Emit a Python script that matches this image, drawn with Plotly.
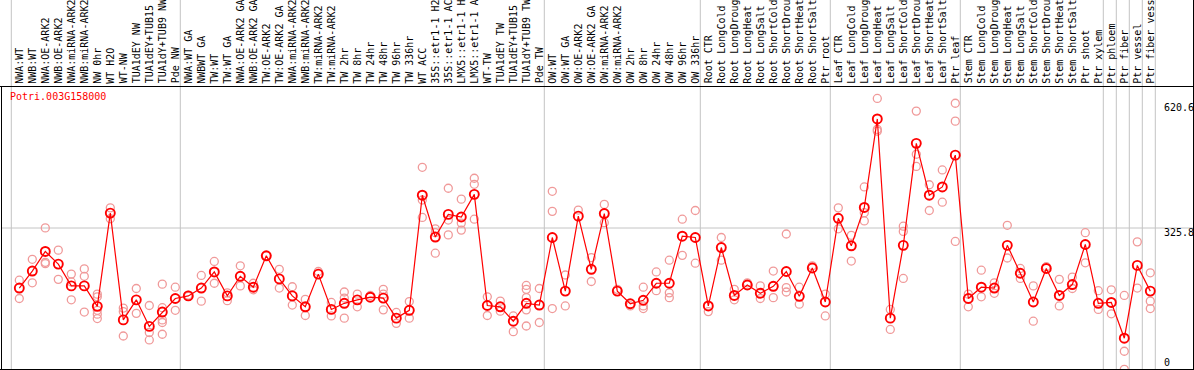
import plotly.graph_objects as go

categories = [
    "NWA:WT", "NWB:WT", "NWA:OE-ARK2", "NWB:OE-ARK2", "NWA:miRNA-ARK2", "NWB:miRNA-ARK2",
    "NW 0hr", "WT H2O", "WT-NW", "TUA1dEY NW", "TUA1dEY+TUB15 NW", "TUA1dY+TUB9 NW", "Pde NW",
    "NWA:WT GA", "NWBWT GA", "TW:WT", "TW:WT GA", "NWA:OE-ARK2 GA", "NWB:OE-ARK2 GA",
    "TW:OE-ARK2", "TW:OE-ARK2 GA", "NWA:miRNA-ARK2 GA", "NWB:miRNA-ARK2 GA", "TW:miRNA-ARK2",
    "TW:miRNA-ARK2 GA", "TW 2hr", "TW 8hr", "TW 24hr", "TW 48hr", "TW 96hr", "TW 336hr",
    "WT ACC", "35S::etr1-1 H2O", "35S::etr1-1 ACC", "LMX5::etr1-1 H2O", "LMX5::etr1-1 ACC",
    "WT-TW", "TUA1dEY TW", "TUA1dEY+TUB15 TW", "TUA1dY+TUB9 TW", "Pde TW",
    "OW:WT", "OW:WT GA", "OW:OE-ARK2", "OW:OE-ARK2 GA", "OW:miRNA-ARK2", "OW:miRNA-ARK2 GA",
    "OW 2hr", "OW 8hr", "OW 24hr", "OW 48hr", "OW 96hr", "OW 336hr",
    "Root CTR", "Root LongCold", "Root LongDrought", "Root LongHeat", "Root LongSalt",
    "Root ShortCold", "Root ShortDrought", "Root ShortHeat", "Root ShortSalt", "Ptr root",
    "Leaf CTR", "Leaf LongCold", "Leaf LongDrought", "Leaf LongHeat", "Leaf LongSalt",
    "Leaf ShortCold", "Leaf ShortDrought", "Leaf ShortHeat", "Leaf ShortSalt", "Ptr leaf",
    "Stem CTR", "Stem LongCold", "Stem LongDrought", "Stem LongHeat", "Stem LongSalt",
    "Stem ShortCold", "Stem ShortDrought", "Stem ShortHeat", "Stem ShortSalt", "Ptr shoot",
    "Ptr xylem", "Ptr phloem", "Ptr fiber", "Ptr vessel", "Ptr fiber vessel",
]

mean_values = [
    188, 227, 272, 243, 193, 193, 146, 360, 115, 161, 100, 133, 164,
    170, 188, 225, 170, 215, 190, 262, 209, 170, 145, 220, 139, 153, 161, 167, 165, 119, 137,
    401, 305, 357, 351, 403, 148, 145, 112, 153, 149,
    304, 181, 353, 231, 359, 181, 152, 160, 199, 199, 307, 304,
    147, 281, 171, 195, 176, 192, 226, 169, 234, 156,
    348, 285, 373, 576, 119, 286, 520, 401, 420, 493,
    164, 190, 188, 286, 222, 156, 233, 171, 196, 288, 153, 155, 73, 240, 181,
]

replicate_values = [
    [206, 164], [254, 200], [326, 247, 244], [275, 208], [220, 202, 161], [232, 215, 133],
    [174, 168, 137, 128, 118], [372, 347], [142, 134, 78], [187, 130], [148, 86, 69],
    [197, 143, 115, 109, 82], [190, 137],
    [172, 169], [217, 158], [249, 199], [177, 159], [239, 193], [199, 184], [262], [231, 188],
    [191, 149], [162, 125], [226], [155, 124], [179, 165, 119], [174, 145], [171],
    [185, 174, 138], [132, 107], [157, 119],
    [465, 390, 350], [324, 315, 268], [417, 344, 310], [392, 337, 321], [440, 426, 346],
    [168, 125], [158, 135], [124, 88], [194, 185, 166, 138, 101], [187, 109],
    [410, 364, 141], [218, 147], [367], [258, 203], [380, 338], [185], [147],
    [190, 147, 141], [225, 182], [252, 177, 166], [346, 263], [366, 245],
    [134], [304, 252], [185, 161], [200], [193, 164], [227, 166], [312, 189, 179],
    [190, 151], [239], [174, 124],
    [372, 324], [309, 250], [420, 361, 342], [623, 552, 548], [139, 93],
    [330, 318, 210], [594, 495, 467], [425, 366], [459, 385], [612, 571, 295],
    [174, 145], [229, 168], [200, 176], [332, 257], [233, 210], [193, 112], [237],
    [208, 147], [213, 187], [315, 246], [182, 139], [184, 129], [171, 43, 1.5],
    [294, 188], [223, 158, 141],
]

y_max = 651.6
y_mid_label = "325.8"
y_top_label = "620.6"
gene_name = "Potri.003G158000"

W, H = 1194, 370
PL, PR, PT, PB = 1, 1193, 86, 370
x0_px, step_px = 19.3, 13.0

x_lo = (PL - x0_px) / step_px
x_hi = (PR - x0_px) / step_px

fig = go.Figure()

rx, ry = [], []
for i, reps in enumerate(replicate_values):
    for v in reps:
        rx.append(i)
        ry.append(v)

fig.add_trace(go.Scatter(
    x=rx, y=ry, mode="markers",
    marker=dict(symbol="circle-open", size=8, color="#f09a9a", line=dict(width=1.3, color="#f09a9a")),
    hoverinfo="skip", showlegend=False, cliponaxis=False,
))
fig.add_trace(go.Scatter(
    x=list(range(len(mean_values))), y=mean_values, mode="lines+markers",
    line=dict(color="#ff0000", width=1.2),
    marker=dict(symbol="circle-open", size=9, color="#ff0000", line=dict(width=1.9, color="#ff0000")),
    showlegend=False, cliponaxis=True,
))

def px_to_paper_x(px):
    return (px - PL) / (PR - PL)

def px_to_paper_y(py):
    return (PB - py) / (PB - PT)

shapes = []
grey = "#c4c4c4"
for k in [0, 13, 41, 53, 63, 73, 84, 85, 86, 87, 88]:
    px = 11.3 + step_px * k
    shapes.append(dict(type="line", xref="paper", yref="paper",
                       x0=px_to_paper_x(px), x1=px_to_paper_x(px),
                       y0=px_to_paper_y(PB), y1=px_to_paper_y(0),
                       line=dict(color=grey, width=1), layer="below"))
shapes.append(dict(type="line", xref="paper", yref="y", x0=0, x1=1, y0=y_max / 2, y1=y_max / 2,
                   line=dict(color=grey, width=1), layer="below"))
shapes.append(dict(type="line", xref="paper", yref="paper", x0=px_to_paper_x(0), x1=px_to_paper_x(W),
                   y0=px_to_paper_y(86.5), y1=px_to_paper_y(86.5), line=dict(color="black", width=1)))
shapes.append(dict(type="line", xref="paper", yref="paper", x0=px_to_paper_x(0), x1=px_to_paper_x(W),
                   y0=px_to_paper_y(369.5), y1=px_to_paper_y(369.5), line=dict(color="black", width=1)))
shapes.append(dict(type="line", xref="paper", yref="paper", x0=px_to_paper_x(1.5), x1=px_to_paper_x(1.5),
                   y0=px_to_paper_y(86.5), y1=px_to_paper_y(370), line=dict(color="black", width=1)))
shapes.append(dict(type="line", xref="paper", yref="paper", x0=px_to_paper_x(1193.5), x1=px_to_paper_x(1193.5),
                   y0=px_to_paper_y(0), y1=px_to_paper_y(370), line=dict(color="black", width=1)))

annotations = []
mono = "DejaVu Sans Mono"
for i, name in enumerate(categories):
    annotations.append(dict(
        x=i, xref="x", y=px_to_paper_y(84.5), yref="paper",
        text=name, textangle=-90, showarrow=False,
        xanchor="center", yanchor="bottom", borderpad=0,
        font=dict(family=mono, size=10, color="black"),
    ))

annotations.append(dict(x=px_to_paper_x(9), xref="paper", y=px_to_paper_y(96.5), yref="paper",
                        text=gene_name, showarrow=False, xanchor="left", yanchor="middle", borderpad=0,
                        font=dict(family=mono, size=10, color="#ff0000")))
for label, py in [(y_top_label, 107.5), (y_mid_label, 232.5), ("0", 362.5)]:
    annotations.append(dict(x=px_to_paper_x(1162.5), xref="paper", y=px_to_paper_y(py), yref="paper",
                            text=label, showarrow=False, xanchor="left", yanchor="middle", borderpad=0,
                            font=dict(family=mono, size=10, color="black")))

fig.update_layout(
    width=W, height=H,
    margin=dict(l=PL, r=W - PR, t=PT, b=H - PB, pad=0),
    paper_bgcolor="white", plot_bgcolor="white",
    xaxis=dict(range=[x_lo, x_hi], visible=False, showgrid=False, zeroline=False),
    yaxis=dict(range=[0, y_max], visible=False, showgrid=False, zeroline=False),
    shapes=shapes, annotations=annotations,
    showlegend=False,
)

fig.write_html("out.html", config={"displayModeBar": False},
               post_script="document.body.style.margin='0';document.body.style.overflow='hidden';")
